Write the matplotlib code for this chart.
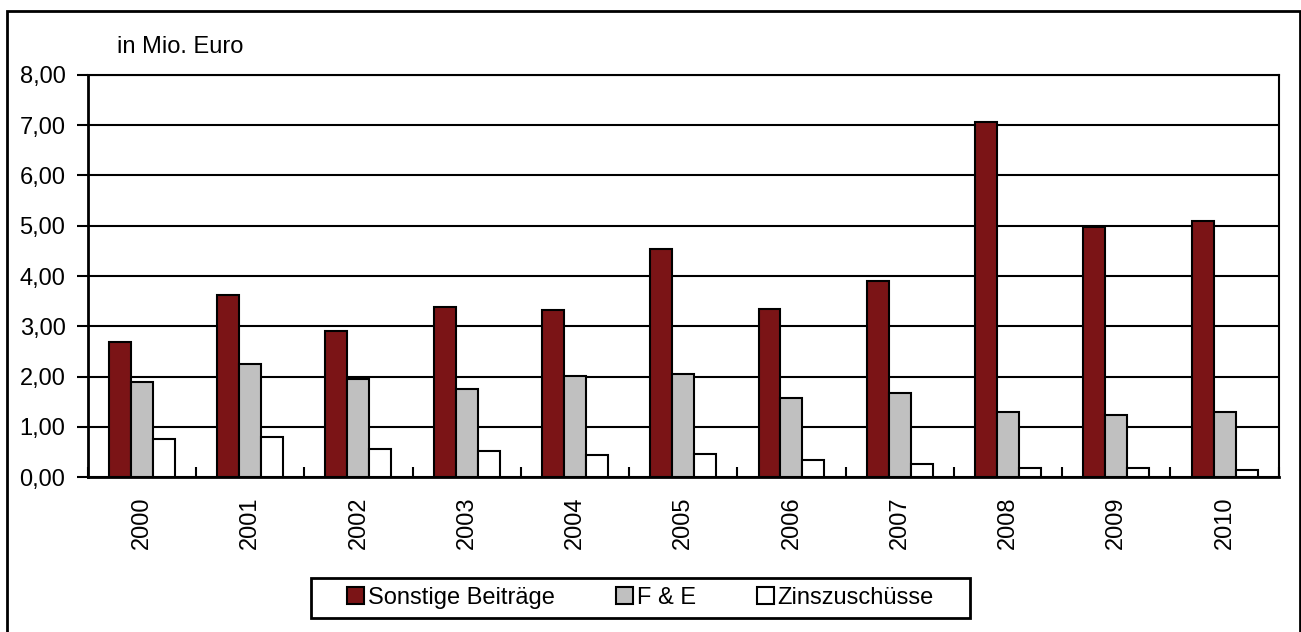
import matplotlib
matplotlib.use("Agg")
import matplotlib.pyplot as plt
from matplotlib.patches import Rectangle
from matplotlib.ticker import FixedLocator, FuncFormatter
import numpy as np

years = ["2000", "2001", "2002", "2003", "2004", "2005", "2006", "2007", "2008", "2009", "2010"]
sonstige = [2.68, 3.63, 2.90, 3.38, 3.32, 4.54, 3.34, 3.91, 7.07, 4.98, 5.09]
fue = [1.89, 2.25, 1.96, 1.76, 2.01, 2.06, 1.58, 1.68, 1.29, 1.23, 1.30]
zins = [0.76, 0.81, 0.57, 0.53, 0.44, 0.47, 0.34, 0.27, 0.19, 0.18, 0.145]
series_names = ["Sonstige Beiträge", "F & E", "Zinszuschüsse"]
series_colors = ["#7B1416", "#C0C0C0", "#FFFFFF"]
y_ticks = [0, 1, 2, 3, 4, 5, 6, 7, 8]

plt.rcParams['font.family'] = ['Liberation Sans', 'DejaVu Sans']
FS = 17

W, H = 1301, 632
fig = plt.figure(figsize=(W / 100, H / 100), dpi=100)
ax = fig.add_axes([87.7 / W, 1 - 477.3 / H, (1278.7 - 87.7) / W, (477.3 - 74.7) / H])

# outer frame
fig.patches.append(Rectangle((7 / W, -0.05), (1299.5 - 7) / W, (1 - 10.5 / H) + 0.05,
                             transform=fig.transFigure, fill=False, edgecolor='black',
                             linewidth=2, clip_on=False))

x = np.arange(len(years))
bw = 0.203
for i, (vals, name, col) in enumerate(zip([sonstige, fue, zins], series_names, series_colors)):
    ax.bar(x + (i - 1) * bw, vals, width=bw, color=col, edgecolor='black',
           linewidth=1.5, label=name, zorder=3)

ax.set_xlim(-0.5, len(years) - 0.5)
ax.set_ylim(0, 8)
ax.yaxis.set_major_locator(FixedLocator(y_ticks))
ax.yaxis.set_major_formatter(FuncFormatter(lambda v, p: f"{v:.2f}".replace('.', ',')))
ax.grid(axis='y', color='black', linewidth=1.5, zorder=1)
ax.set_axisbelow(True)

ax.set_xticks(x)
ax.set_xticklabels(years, rotation=90, fontsize=FS)
ax.tick_params(axis='x', which='major', length=0, pad=14)
ax.set_xticks(np.arange(len(years) + 1) - 0.5, minor=True)
ax.tick_params(axis='x', which='minor', direction='in', length=7, width=1.5)
ax.tick_params(axis='y', direction='out', length=8, width=1.5, labelsize=FS, pad=8)

for s in ['top', 'right']:
    ax.spines[s].set_visible(True)
    ax.spines[s].set_linewidth(1.5)
for s in ['left', 'bottom']:
    ax.spines[s].set_linewidth(2)

fig.text(117 / W, 1 - 47 / H, "in Mio. Euro", fontsize=FS, va='center', ha='left')

# legend box
lx0, lx1, ly0, ly1 = 311, 970, 578, 618
fig.patches.append(Rectangle((lx0 / W, 1 - ly1 / H), (lx1 - lx0) / W, (ly1 - ly0) / H,
                             transform=fig.transFigure, fill=False, edgecolor='black',
                             linewidth=2))
leg = fig.legend(loc='center', bbox_to_anchor=((lx0 + lx1) / 2 / W, 1 - (ly0 + ly1) / 2 / H),
                 ncol=3, fontsize=FS, frameon=False,
                 handlelength=0.72, handleheight=0.72, handletextpad=0.15, columnspacing=2.6,
                 borderpad=0.2)

fig.savefig("out.png", dpi=100, facecolor='white')
